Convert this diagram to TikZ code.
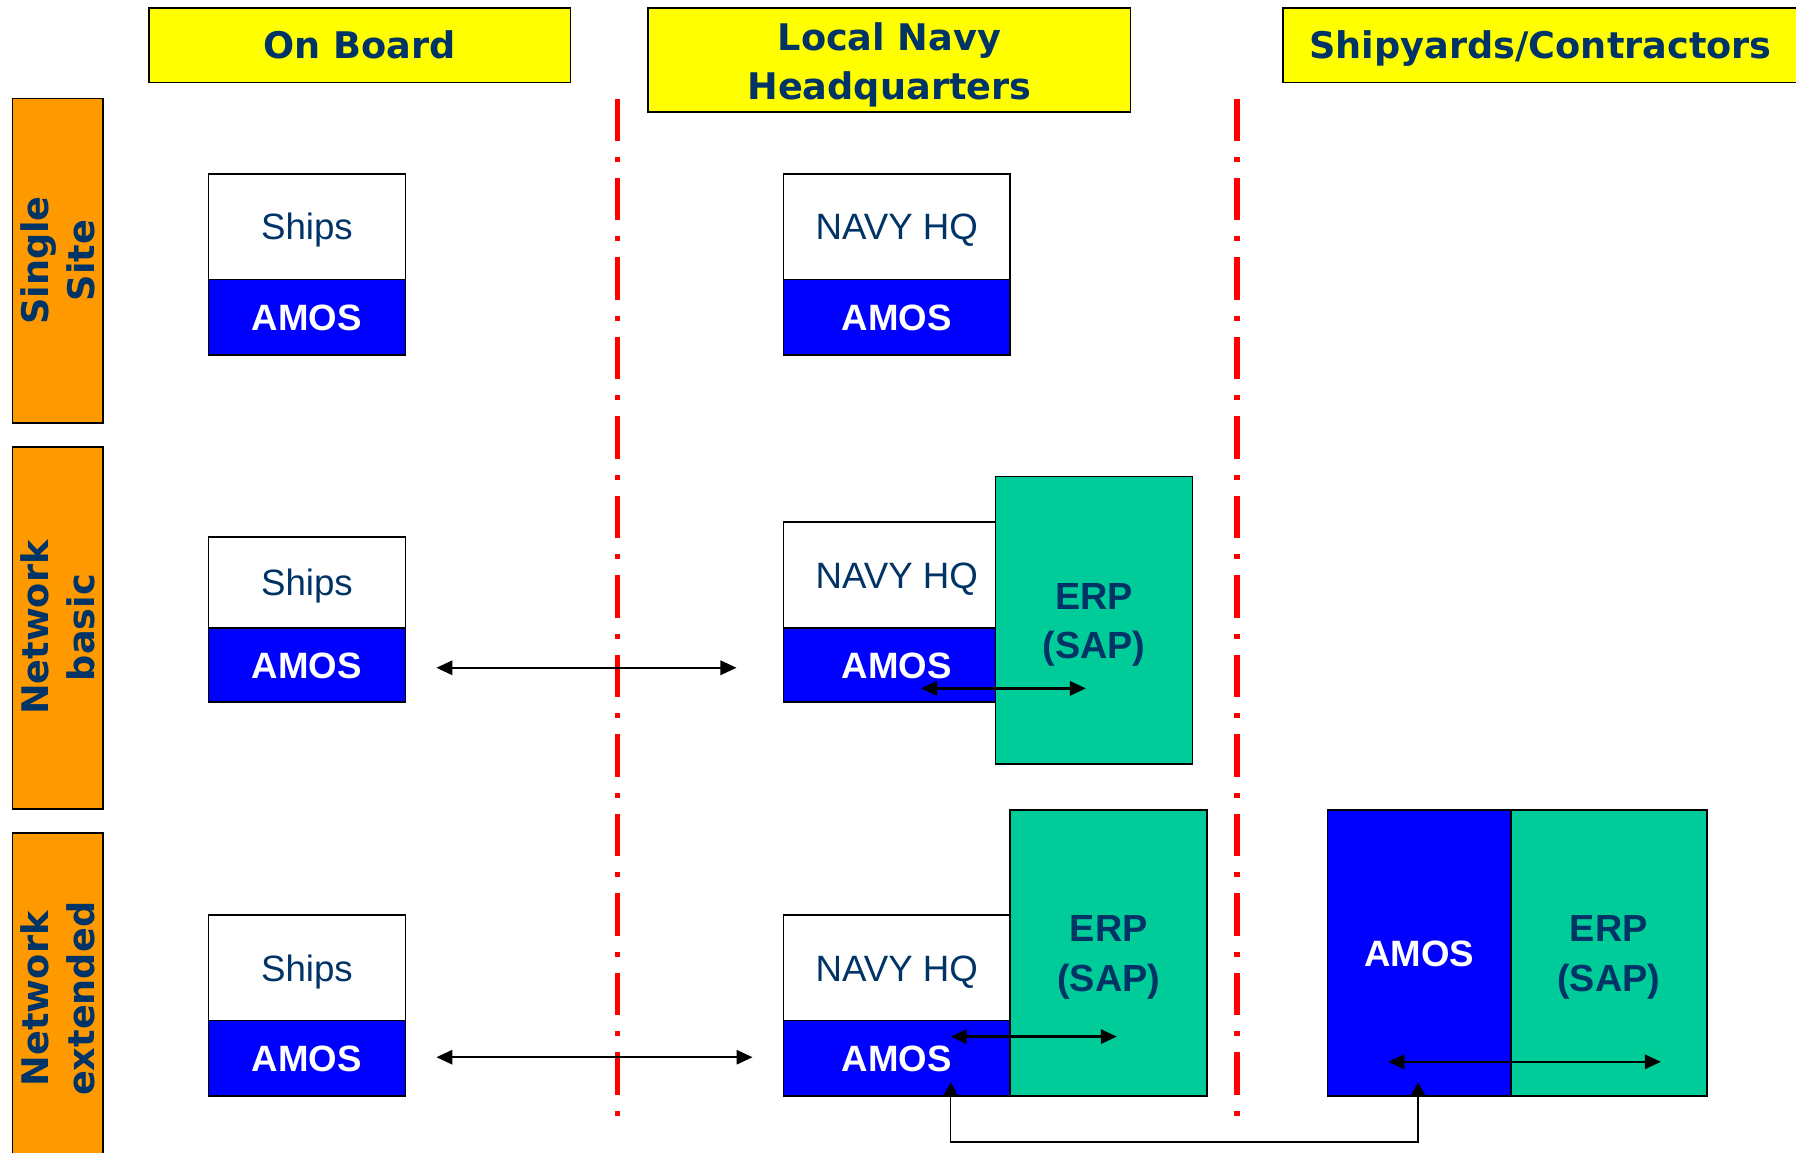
\documentclass[tikz,border=0pt]{standalone}
\usepackage{fontspec}
\setmainfont{Liberation Sans}
\newfontfamily\verd{DejaVu Sans}
\usetikzlibrary{arrows.meta}
\definecolor{navytxt}{RGB}{0,51,102}
\definecolor{hdryellow}{RGB}{255,255,0}
\definecolor{roworange}{RGB}{255,153,0}
\definecolor{amosblue}{RGB}{0,0,255}
\definecolor{erpgreen}{RGB}{0,204,153}
\definecolor{sepred}{RGB}{255,0,0}
\begin{document}
\begin{tikzpicture}[x=1pt,y=-1pt,
  base/.style={draw=black,line width=1.5pt,inner sep=0pt,outer sep=0pt,rectangle,align=center},
  header/.style={base,fill=hdryellow,text=navytxt,font=\verd\bfseries\fontsize{32}{43}\selectfont},
  rowlab/.style={base,fill=roworange,text=navytxt,rotate=90,font=\verd\bfseries\fontsize{32}{40}\selectfont,minimum height=79pt},
  topbox/.style={base,fill=white,text=navytxt,font=\fontsize{32}{38}\selectfont,minimum height=92pt,text height=23pt,text depth=0pt},
  amosbox/.style={base,fill=amosblue,text=white,font=\bfseries\fontsize{32}{38}\selectfont,minimum height=66pt,text height=23pt,text depth=0pt},
  erpbox/.style={base,fill=erpgreen,text=navytxt,font=\bfseries\fontsize{33}{43}\selectfont,minimum width=172pt,minimum height=250pt},
  link/.style={line width=2pt,{Triangle[length=14pt,width=12.5pt]}-{Triangle[length=14pt,width=12.5pt]}},
  thinlink/.style={line width=1.3pt,{Triangle[length=12pt,width=13pt]}-{Triangle[length=12pt,width=13pt]}},
  sepline/.style={draw=sepred,line width=4.5pt,dash pattern=on 37pt off 14pt on 4.4pt off 14pt}]
\clip (0,0) rectangle (1568,1006);
\fill[white] (0,0) rectangle (1568,1006);

% headers
\node[header,minimum width=368pt,minimum height=65pt,text height=23.3pt,text depth=0pt] (hBoard) at (314,39.5) {On Board};
\node[header,minimum width=421pt,minimum height=91pt] (hLocal) at (776.5,52.5) {\rule{0pt}{33pt}Local Navy\\Headquarters};
\node[header,minimum width=450pt,minimum height=65pt,text height=23.3pt,text depth=0pt] (hYard) at (1345,39.5) {Shipyards/Contractors};

% row labels
\node[rowlab,minimum width=283pt] (rSingle) at (50.5,227.5) {Single\\Site};
\node[rowlab,minimum width=316pt] (rBasic) at (50.5,548) {Network\\basic};
\node[rowlab,minimum width=290pt] (rExt) at (50.5,872) {Network\\extended};

% separators
\coordinate (sepAt) at (539,86);
\coordinate (sepAb) at (539,980);
\coordinate (sepBt) at (1080,86);
\coordinate (sepBb) at (1080,980);
\draw[sepline] (sepAt) -- (sepAb);
\draw[sepline] (sepBt) -- (sepBb);

% row 1
\node[topbox,minimum width=172pt] (s1top) at (268,198) {Ships};
\node[amosbox,minimum width=172pt] (s1amos) at (268,277) {AMOS};
\node[topbox,minimum width=198pt] (h1top) at (783,198) {NAVY HQ};
\node[amosbox,minimum width=198pt] (h1amos) at (783,277) {AMOS};

% row 2
\node[topbox,minimum width=172pt,minimum height=79pt] (s2top) at (268,508.5) {Ships};
\node[amosbox,minimum width=172pt,minimum height=65pt] (s2amos) at (268,580.5) {AMOS};
\node[topbox,minimum width=198pt] (h2top) at (783,502) {NAVY HQ};
\node[amosbox,minimum width=198pt,minimum height=65pt] (h2amos) at (783,580.5) {AMOS};
\node[erpbox,minimum height=251pt] (erp2) at (955,541.5) {\rule{0pt}{30.6pt}ERP\\(SAP)};

% row 3
\node[topbox,minimum width=172pt] (s3top) at (268,845) {Ships};
\node[amosbox,minimum width=172pt] (s3amos) at (268,924) {AMOS};
\node[topbox,minimum width=198pt] (h3top) at (783,845) {NAVY HQ};
\node[amosbox,minimum width=198pt] (h3amos) at (783,924) {AMOS};
\node[erpbox] (erp3) at (968,832) {\rule{0pt}{30.6pt}ERP\\(SAP)};
\node[amosbox,minimum width=160pt,minimum height=250pt] (yAmos) at (1239,832) {AMOS};
\node[erpbox,minimum width=171pt] (yErp) at (1404.5,832) {\rule{0pt}{30.6pt}ERP\\(SAP)};

% connectors
\draw[link] ([shift={(27,2.5)}]s2amos.east) -- ([shift={(-41,2.5)}]h2amos.west);
\draw[link] ([shift={(21,20.5)}]h2amos.center) -- ++(144,0);
\draw[link] ([shift={(27,-1)}]s3amos.east) -- ([shift={(-27,-1)}]h3amos.west);
\draw[link] ([shift={(47,-19)}]h3amos.center) -- ++(145,0);
\draw[link] ([shift={(-27,95)}]yAmos.center) -- ++(238,0);
\draw[thinlink] ([shift={(47,21)}]h3amos.center) -- ++(0,52) -| ([shift={(-1,113)}]yAmos.center);
\end{tikzpicture}
\end{document}
